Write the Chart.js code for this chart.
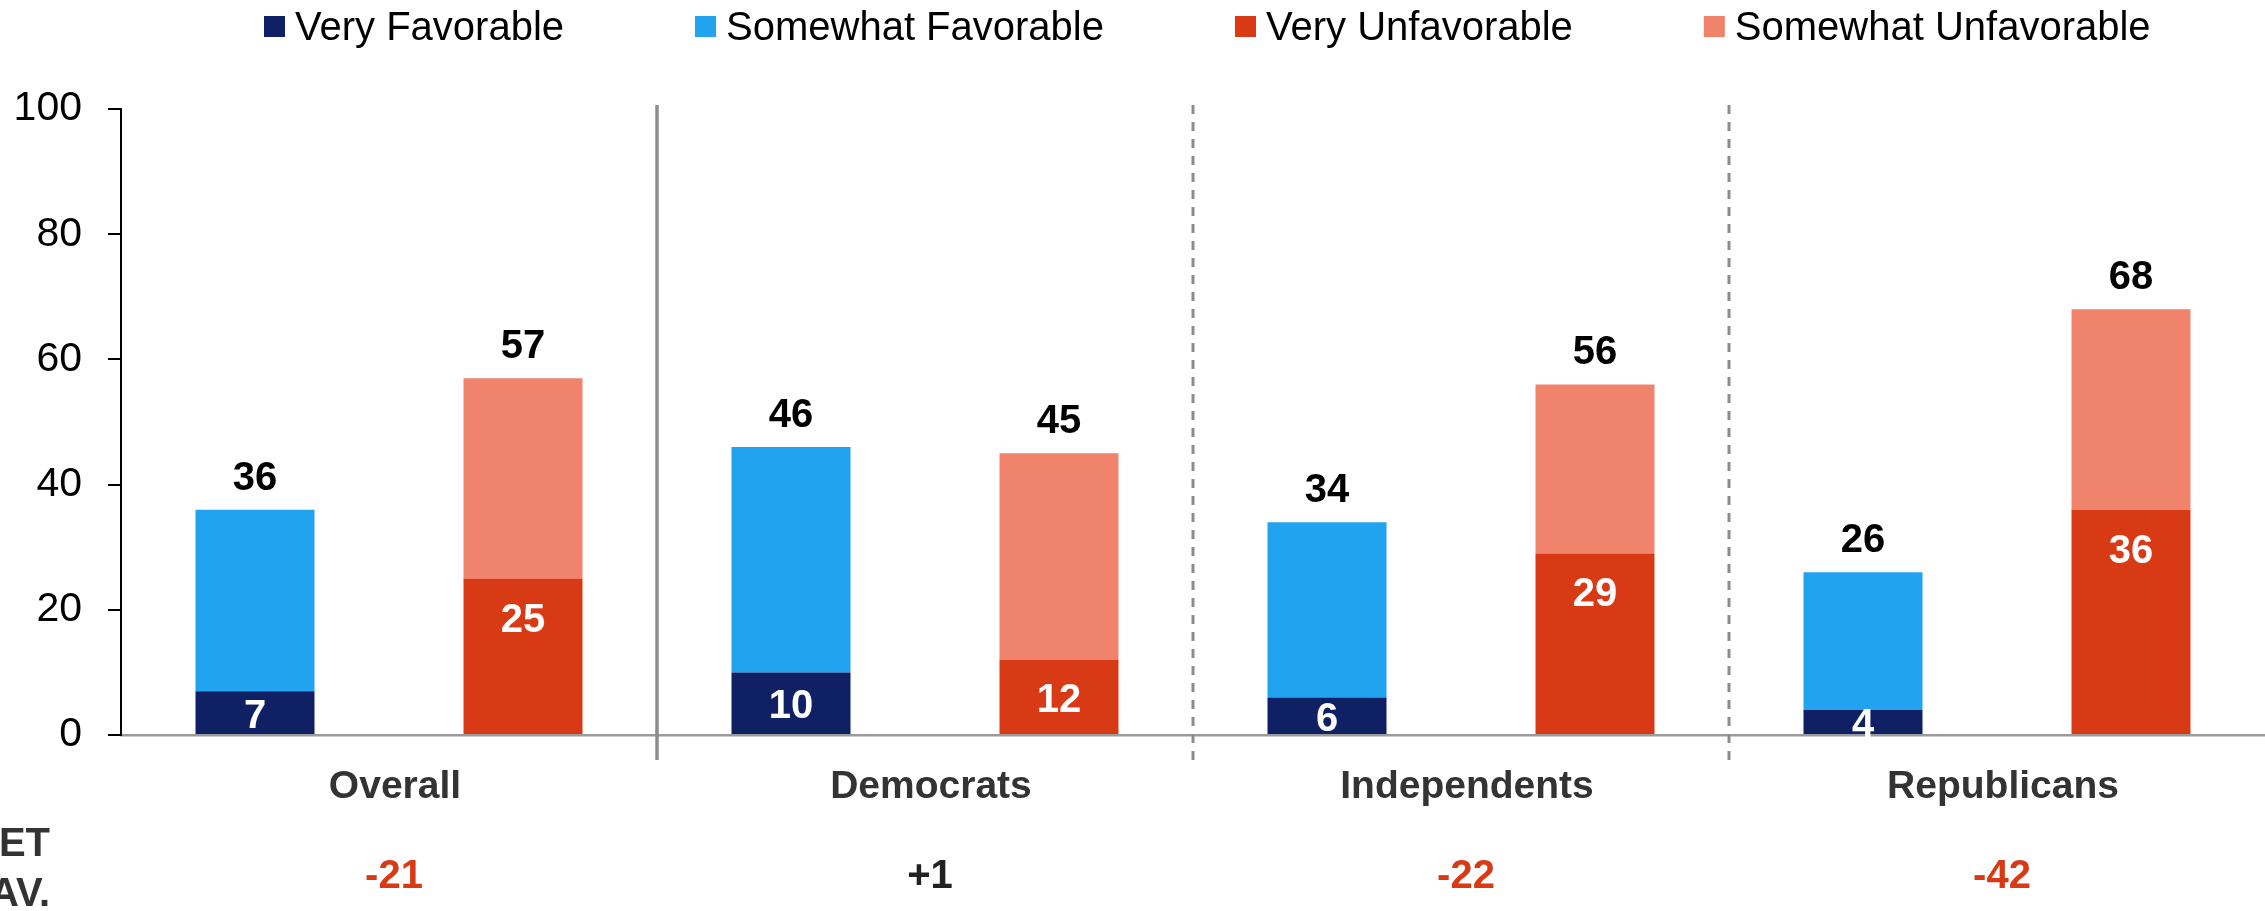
<!DOCTYPE html>
<html>
<head>
<meta charset="utf-8">
<title>Favorability by party</title>
<script src="https://cdn.jsdelivr.net/npm/chart.js@4.4.1/dist/chart.umd.min.js"></script>
<style>
  html, body { margin: 0; padding: 0; background: #fff; }
  #wrap { width: 2265px; height: 911px; position: relative; }
</style>
</head>
<body>
<div id="wrap"><canvas id="myChart"></canvas></div>
<script>
'use strict';
const categories = ['Overall', 'Democrats', 'Independents', 'Republicans'];
const veryFav = [7, 10, 6, 4];
const somewhatFav = [29, 36, 28, 22];
const veryUnfav = [25, 12, 29, 36];
const somewhatUnfav = [32, 33, 27, 32];
const netFav = [-21, 1, -22, -42];
const yTicks = [0, 20, 40, 60, 80, 100];

const fontFamily = "'Liberation Sans', Arial, Helvetica, sans-serif";
const red = '#d93a16';

Chart.defaults.font.family = fontFamily;

// separators between the groups: solid after Overall, dashed after the others
const sepPlugin = {
  id: 'separators',
  beforeDatasetsDraw(chart) {
    const ctx = chart.ctx;
    const xs = chart.scales.x;
    const area = chart.chartArea;
    ctx.save();
    ctx.strokeStyle = '#8c8c8c';
    for (let i = 1; i < categories.length; i++) {
      const x = (xs.getPixelForValue(i - 1) + xs.getPixelForValue(i)) / 2;
      ctx.lineWidth = i === 1 ? 3.5 : 3;
      ctx.setLineDash(i === 1 ? [] : [9, 8]);
      ctx.beginPath();
      ctx.moveTo(x, area.top - 4);
      ctx.lineTo(x, area.bottom + 25);
      ctx.stroke();
    }
    ctx.restore();
  }
};

// values inside the "very" segments and totals above each stack
const labelPlugin = {
  id: 'barLabels',
  afterDatasetsDraw(chart) {
    const ctx = chart.ctx;
    const sets = chart.data.datasets;
    ctx.save();
    ctx.textAlign = 'center';
    ctx.textBaseline = 'middle';
    ctx.font = 'bold 40px ' + fontFamily;
    [0, 2].forEach(di => {
      chart.getDatasetMeta(di).data.forEach((bar, i) => {
        const cy = Math.min(bar.y + 38, (bar.y + bar.base) / 2) + 4;
        ctx.fillStyle = '#fff';
        ctx.fillText(sets[di].data[i], bar.x, cy);
      });
    });
    [[0, 1], [2, 3]].forEach(([a, b]) => {
      chart.getDatasetMeta(b).data.forEach((bar, i) => {
        const total = sets[a].data[i] + sets[b].data[i];
        ctx.fillStyle = '#000';
        ctx.fillText(total, bar.x, bar.y - 31);
      });
    });
    ctx.restore();
  }
};

// net favorability row under the category names
const netPlugin = {
  id: 'netRow',
  afterDraw(chart) {
    const ctx = chart.ctx;
    const xs = chart.scales.x;
    const base = chart.chartArea.bottom;
    ctx.save();
    ctx.font = 'bold 40px ' + fontFamily;
    ctx.textBaseline = 'middle';
    ctx.textAlign = 'center';
    netFav.forEach((v, i) => {
      ctx.fillStyle = v < 0 ? red : '#222';
      ctx.fillText(v > 0 ? '+' + v : String(v), xs.getPixelForValue(i) + 5, base + 142);
    });
    ctx.textAlign = 'right';
    ctx.fillStyle = '#333';
    ctx.fillText('NET', 50, base + 110);
    ctx.fillText('FAV.', 50, base + 160);
    ctx.restore();
  }
};

// legend row at the top
const legendPlugin = {
  id: 'topLegend',
  afterDraw(chart) {
    const ctx = chart.ctx;
    ctx.save();
    ctx.font = '40px ' + fontFamily;
    ctx.textBaseline = 'alphabetic';
    ctx.textAlign = 'left';
    let x = 264;
    chart.data.datasets.forEach(ds => {
      ctx.fillStyle = ds.backgroundColor;
      ctx.fillRect(x, 16, 21, 21);
      x += 31;
      ctx.fillStyle = '#000';
      ctx.fillText(ds.label, x, 40);
      x += ctx.measureText(ds.label).width + 131;
    });
    ctx.restore();
  }
};

function barSet(label, data, color, stack) {
  return {
    label: label,
    data: data,
    backgroundColor: color,
    borderWidth: 0,
    stack: stack,
    categoryPercentage: 1.0,
    barPercentage: 0.444
  };
}

const ctx = document.getElementById('myChart').getContext('2d');
const chart = new Chart(ctx, {
  type: 'bar',
  data: {
    labels: categories,
    datasets: [
      barSet('Very Favorable', veryFav, '#0f2064', 'fav'),
      barSet('Somewhat Favorable', somewhatFav, '#22a3f0', 'fav'),
      barSet('Very Unfavorable', veryUnfav, red, 'unfav'),
      barSet('Somewhat Unfavorable', somewhatUnfav, '#ef836b', 'unfav')
    ]
  },
  options: {
    animation: false,
    responsive: true,
    maintainAspectRatio: false,
    devicePixelRatio: 1,
    layout: { padding: { top: 109, left: 0, right: 0, bottom: 0 } },
    plugins: {
      legend: { display: false },
      tooltip: { enabled: false }
    },
    scales: {
      x: {
        stacked: true,
        grid: { display: false, drawTicks: false },
        border: { display: true, color: '#9b9b9b', width: 2.5 },
        ticks: { color: '#333', font: { size: 39, weight: 'bold' }, padding: 29, labelOffset: 6 },
        afterFit: s => { s.height = 176; }
      },
      y: {
        stacked: true,
        min: 0,
        max: 100,
        afterBuildTicks: s => { s.ticks = yTicks.map(v => ({ value: v })); },
        grid: { drawOnChartArea: false, drawTicks: true, tickLength: 13, color: '#000', lineWidth: 2 },
        border: { display: true, color: '#000', width: 2 },
        ticks: { color: '#000', font: { size: 41 }, padding: 26 },
        afterFit: s => { s.width = 121; }
      }
    }
  },
  plugins: [sepPlugin, labelPlugin, netPlugin, legendPlugin]
});
</script>
</body>
</html>
